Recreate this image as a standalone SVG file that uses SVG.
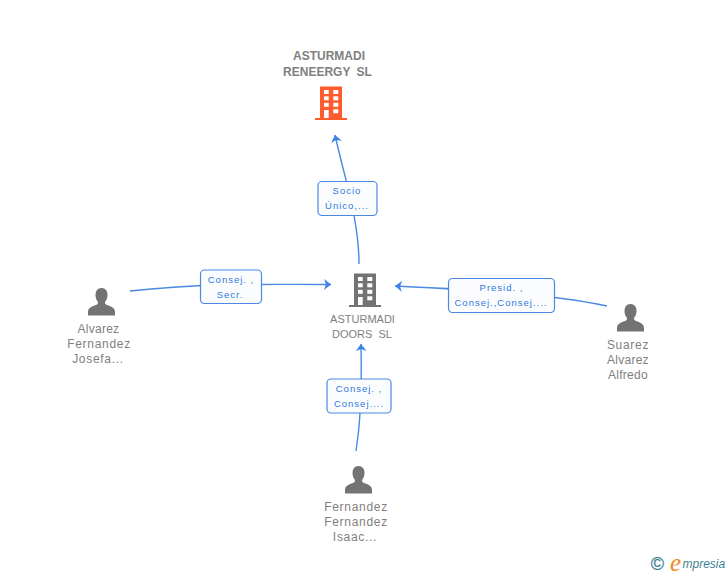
<svg xmlns="http://www.w3.org/2000/svg" width="728" height="575" viewBox="0 0 728 575">
<style>
text{font-family:"Liberation Sans",Arial,sans-serif}
.n{font-size:12px;fill:#808080;text-anchor:middle;letter-spacing:.7px}
.t{letter-spacing:.25px}
.k{font-size:11px;letter-spacing:0;word-spacing:3px}
.b{font-size:12px;font-weight:bold;letter-spacing:0;word-spacing:3px}
.l{font-size:9.500px;fill:#2f7ae0;text-anchor:middle;letter-spacing:1px}
.c{fill:none;stroke:#4a88e4;stroke-width:1.400}
.box{fill:#fbfcfe;stroke:#4a88e4;stroke-width:1.200}
.p{fill:#737373}
.w{fill:#fff}
</style>
<defs>
<marker id="a" markerWidth="10" markerHeight="12" refX="7" refY="5.500" orient="auto" markerUnits="userSpaceOnUse"><path d="M0 0L7 5.500L0 11L2 5.500Z" fill="#3f82e6"/></marker>
<path id="person" d="M0 -14c-4 0-6 3-6 7c0 3 1 5 2.500 7c0 1.500-.5 2.500-2 3c-4 1.500-8 2.500-8 7v3.500h27v-3.500c0-4.500-4-5.500-8-7c-1.500-.5-2-1.500-2-3c1.500-2 2.500-4 2.500-7c0-4-2-7-6-7z"/>
<g id="bld">
<path d="M-13 -17.500h22v31.500h5v2h-32v-2h5z"/>
<g class="w"><rect x="-9" y="-14" width="4.700" height="4"/><rect x="0.300" y="-14" width="5" height="4"/><rect x="-9" y="-7.700" width="4.700" height="4"/><rect x="0.300" y="-7.700" width="5" height="4"/><rect x="-9" y="-1.200" width="4.700" height="4"/><rect x="0.300" y="-1.200" width="5" height="4"/><rect x="-9" y="6" width="4.700" height="8"/><rect x="0.300" y="5.300" width="5" height="4"/></g>
</g>
</defs>
<g id="connectors">
<path class="c" marker-end="url(#a)" d="M359 264C359 220 345 180 335 135"/>
<path class="c" marker-end="url(#a)" d="M130 291C190 284 250 284 331 284.500"/>
<path class="c" marker-end="url(#a)" d="M607 306C550 294 480 290 395 286"/>
<path class="c" marker-end="url(#a)" d="M356 451C360 425 362 400 361 344"/>
</g>
<g id="node-reneergy">
<text class="n b" x="329" y="60">ASTURMADI</text>
<text class="n b" x="327.500" y="76">RENEERGY SL</text>
<use href="#bld" x="333" y="104" fill="#ff5c2e"/>
</g>
<g id="node-doors">
<use href="#bld" x="367" y="291" fill="#737373"/>
<text class="n k" x="362.500" y="323">ASTURMADI</text>
<text class="n k" x="362" y="338">DOORS SL</text>
</g>
<g id="node-alvarez">
<use href="#person" class="p" x="101.500" y="302"/>
<text class="n t" x="98.500" y="333">Alvarez</text>
<text class="n" x="99" y="348">Fernandez</text>
<text class="n" x="98" y="363">Josefa...</text>
</g>
<g id="node-suarez">
<use href="#person" class="p" x="630.500" y="318"/>
<text class="n" x="628" y="349">Suarez</text>
<text class="n t" x="628" y="364">Alvarez</text>
<text class="n t" x="628" y="379">Alfredo</text>
</g>
<g id="node-fernandez">
<use href="#person" class="p" x="358.500" y="480"/>
<text class="n" x="356" y="511">Fernandez</text>
<text class="n" x="356" y="526">Fernandez</text>
<text class="n" x="355" y="541">Isaac...</text>
</g>
<g id="label-socio">
<rect class="box" x="318" y="181.500" width="59" height="34" rx="4"/>
<text class="l" x="347" y="194">Socio</text>
<text class="l" x="347" y="209">Único,...</text>
</g>
<g id="label-secr">
<rect class="box" x="200.500" y="270" width="61" height="33.500" rx="4"/>
<text class="l" x="231" y="283">Consej. ,</text>
<text class="l" x="230" y="298">Secr.</text>
</g>
<g id="label-presid">
<rect class="box" x="448.500" y="278.500" width="106" height="34" rx="4"/>
<text class="l" x="501.500" y="291">Presid. ,</text>
<text class="l" x="501" y="306">Consej.,Consej....</text>
</g>
<g id="label-consej">
<rect class="box" x="327" y="379" width="64" height="34" rx="4"/>
<text class="l" x="359" y="392">Consej. ,</text>
<text class="l" x="359" y="407">Consej....</text>
</g>
<g id="logo">
<text x="657.500" y="570" font-size="18" text-anchor="middle" fill="#3f7f96" stroke="#3f7f96" stroke-width=".3">©</text>
<text x="670" y="571" font-size="25" font-style="italic" fill="#f08a1c" style="font-family:'Liberation Serif',serif">e</text>
<text x="682.500" y="568" font-size="12" font-style="italic" fill="#3f7f96">mpresia</text>
</g>
</svg>
